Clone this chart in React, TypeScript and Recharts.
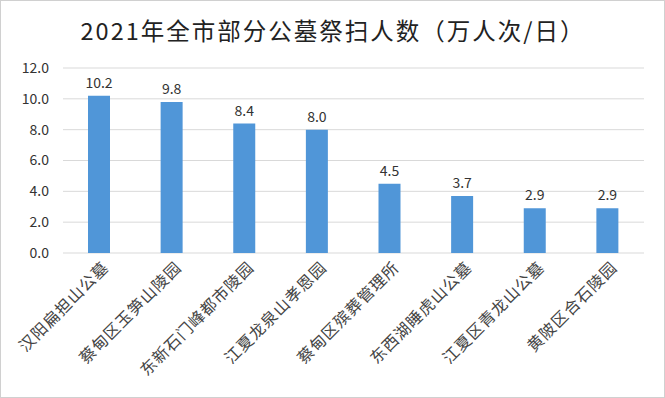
import React from "react";
import { BarChart, Bar, XAxis, YAxis, CartesianGrid, LabelList } from "recharts";

const cemeteries = [
    "汉阳扁担山公墓",
    "蔡甸区玉笋山陵园",
    "东新石门峰都市陵园",
    "江夏龙泉山孝恩园",
    "蔡甸区殡葬管理所",
    "东西湖睡虎山公墓",
    "江夏区青龙山公墓",
    "黄陂区合石陵园",
];
const visitors = [10.2, 9.8, 8.4, 8.0, 4.5, 3.7, 2.9, 2.9];
const yTicks = [0, 2, 4, 6, 8, 10, 12];

const data = cemeteries.map((name, i) => ({ name, value: visitors[i] }));

const FONT = '"Noto Sans CJK SC", "Noto Sans", sans-serif';

const AngledTick = (props: any) => {
    const { x, y, payload } = props;
    return (
        <g transform={`translate(${x + 7},${y + 4})`}>
            <text
                textAnchor="end"
                transform="rotate(-45)"
                fontSize={16}
                letterSpacing={1}
                fill="#444"
                fontFamily={FONT}
                dy={5}
            >
                {payload.value}
            </text>
        </g>
    );
};

const App: React.FC = () => {
    return (
        <div
            style={{
                position: "absolute",
                left: 0,
                top: 0,
                width: 663,
                height: 396,
                border: "1px solid #d0d0d0",
                background: "#fff",
                fontFamily: FONT,
            }}
        >
            <div
                style={{
                    position: "absolute",
                    top: 12,
                    left: 7,
                    width: 650,
                    textAlign: "center",
                    fontSize: 23.5,
                    letterSpacing: 2,
                    color: "#222",
                }}
            >
                2021年全市部分公墓祭扫人数（万人次/日）
            </div>
            <BarChart
                width={663}
                height={396}
                data={data}
                margin={{ top: 67, right: 20, bottom: 0, left: 0 }}
                barCategoryGap="0%"
            >
                <CartesianGrid vertical={false} stroke="#d9d9d9" />
                <XAxis
                    dataKey="name"
                    interval={0}
                    axisLine={false}
                    tickLine={false}
                    height={144}
                    tick={<AngledTick />}
                />
                <YAxis
                    domain={[0, 12]}
                    ticks={yTicks}
                    width={62}
                    axisLine={false}
                    tickLine={false}
                    tickSize={0}
                    tickMargin={14}
                    tickFormatter={(v: number) => v.toFixed(1)}
                    tick={{ fontSize: 14, fill: "#333", fontFamily: FONT }}
                />
                <Bar dataKey="value" fill="#5096d8" barSize={22} isAnimationActive={false}>
                    <LabelList
                        dataKey="value"
                        position="top"
                        offset={8}
                        formatter={(v: number) => v.toFixed(1)}
                        style={{ fontSize: 14, fill: "#333", fontFamily: FONT }}
                    />
                </Bar>
            </BarChart>
        </div>
    );
};

export default App;
